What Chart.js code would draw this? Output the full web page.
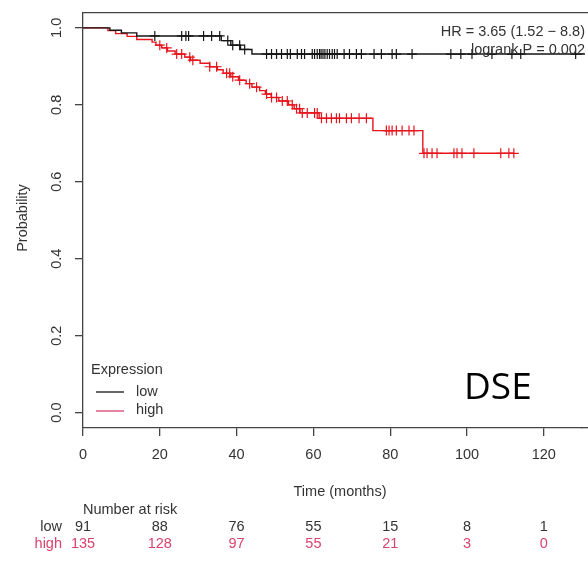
<!DOCTYPE html>
<html><head><meta charset="utf-8">
<script src="https://cdn.jsdelivr.net/npm/chart.js@4/dist/chart.umd.min.js"></script>
<style>html,body{margin:0;padding:0;background:#fff;}#wrap{width:588px;height:567px;position:relative;}</style>
</head><body><div id="wrap"><canvas id="c" width="588" height="567"></canvas></div>
<script>
// Kaplan-Meier step data (time in months, survival probability)
const lowTimes  = [0, 7, 10, 14, 36, 38.5, 41, 44, 131];
const lowSurv   = [1, 0.994, 0.987, 0.979, 0.967, 0.955, 0.944, 0.932, 0.932];
const highTimes = [0, 6.5, 8.5, 11.5, 14, 18, 19, 20.5, 22, 24, 26.5, 28, 30.5, 33, 35, 36.5, 38.5, 40.5, 42.5, 44, 46, 47.5, 49, 51, 53.5, 55, 56.5, 61.5, 75.5, 88.5, 112.2];
const highSurv  = [1, 0.993, 0.985, 0.978, 0.970, 0.963, 0.955, 0.948, 0.940, 0.932, 0.924, 0.916, 0.908, 0.899, 0.891, 0.882, 0.873, 0.864, 0.855, 0.846, 0.837, 0.828, 0.819, 0.810, 0.800, 0.790, 0.779, 0.765, 0.733, 0.674, 0.674];
// censoring times
const lowCensor  = [18.7, 25.7, 26.8, 27.5, 31.4, 33.5, 35.6, 37.7, 39, 40.8, 42.1, 47.8, 49.1, 50.4, 51.7, 53.2, 54, 55.8, 56.9, 57.7, 59.7, 60.3, 61, 61.6, 62, 62.5, 63, 63.6, 64.2, 64.9, 65.5, 66.2, 68, 69.4, 71.2, 72.5, 75.8, 77.7, 80.5, 81.6, 85.7, 95.8, 98.4, 101.3, 106.5, 111.7, 114, 128.3];
const highCensor = [20, 21.8, 24.4, 25.7, 27.8, 28.6, 33, 34.8, 37.4, 38.2, 39, 40.8, 43.4, 45.2, 47.8, 49.1, 50.4, 51.9, 53.2, 54.5, 55.6, 56.4, 57.1, 58.4, 60.3, 61, 62.1, 63.4, 64.7, 66, 66.8, 68.6, 69.9, 71.9, 73.8, 79, 79.7, 80.5, 81.6, 83.1, 84.9, 86.2, 88.8, 89.6, 90.9, 92.2, 96.6, 97.4, 98.7, 101.8, 108.8, 110.9, 112.2];
// axis ticks
const xTicks = [0, 20, 40, 60, 80, 100, 120];
const yTicks = [0, 0.2, 0.4, 0.6, 0.8, 1.0];
const yTickLabels = ["0.0", "0.2", "0.4", "0.6", "0.8", "1.0"];
// number at risk
const riskTimes = [0, 20, 40, 60, 80, 100, 120];
const riskLow   = [91, 88, 76, 55, 15, 8, 1];
const riskHigh  = [135, 128, 97, 55, 21, 3, 0];
const groupNames = ["low", "high"];
const hrText = "HR = 3.65 (1.52 \u2212 8.8)";
const pText = "logrank P = 0.002";

const FONT = "'Liberation Sans', Arial, sans-serif";
const TXT = '#333';
const LOWC = '#151515';
const HIGHC = '#e8141c';
const HIGHTXT = '#d9436e';
const AXC = '#444';

function survAt(times, surv, t) {
  let s = surv[0];
  for (let i = 0; i < times.length; i++) { if (times[i] <= t) s = surv[i]; }
  return s;
}
const pts = (ts, ss) => ts.map((t, i) => ({x: t, y: ss[i]}));
const cens = (cs, ts, ss) => cs.map(t => ({x: t, y: survAt(ts, ss, t)}));
const align = (p, w) => Math.round(p - w / 2) + w / 2;

const annot = {
  id: 'annot',
  afterDraw(chart) {
    const ctx = chart.ctx, ca = chart.chartArea;
    const xs = chart.scales.x, ys = chart.scales.y;
    ctx.save();
    // top frame line and extension of bottom frame / curve to canvas edge
    ctx.strokeStyle = AXC; ctx.lineWidth = 1.3;
    const yt = align(ca.top, 1.3), yb = align(xs.top, 1.3);
    ctx.beginPath(); ctx.moveTo(ca.left, yt); ctx.lineTo(chart.width, yt); ctx.stroke();
    ctx.beginPath(); ctx.moveTo(ca.right - 1, yb); ctx.lineTo(chart.width, yb); ctx.stroke();
    ctx.strokeStyle = LOWC; ctx.lineWidth = 1.4;
    const yl = ys.getPixelForValue(lowSurv[lowSurv.length - 1]);
    ctx.beginPath(); ctx.moveTo(ca.right - 1, yl); ctx.lineTo(chart.width - 3, yl); ctx.stroke();
    ctx.font = '14.5px ' + FONT;
    ctx.fillStyle = TXT;
    ctx.textBaseline = 'middle';
    // y tick labels (rotated)
    yTicks.forEach((v, i) => {
      ctx.save();
      ctx.translate(57, ys.getPixelForValue(v));
      ctx.rotate(-Math.PI / 2);
      ctx.textAlign = 'center';
      ctx.fillText(yTickLabels[i], 0, 0);
      ctx.restore();
    });
    // y title
    ctx.save();
    ctx.translate(23, 218);
    ctx.rotate(-Math.PI / 2);
    ctx.textAlign = 'center';
    ctx.fillText('Probability', 0, 0);
    ctx.restore();
    // x title
    ctx.textAlign = 'center';
    ctx.fillText('Time (months)', 340, 492);
    // HR / logrank
    ctx.textAlign = 'right';
    ctx.fillText(hrText, 585, 32);
    ctx.fillText(pText, 585, 50);
    // legend
    ctx.textAlign = 'left';
    ctx.fillText('Expression', 91, 370);
    ctx.lineWidth = 1.3;
    ctx.strokeStyle = LOWC;
    ctx.beginPath(); ctx.moveTo(96, 392); ctx.lineTo(124, 392); ctx.stroke();
    ctx.strokeStyle = HIGHTXT;
    ctx.beginPath(); ctx.moveTo(96, 411); ctx.lineTo(124, 411); ctx.stroke();
    ctx.fillText(groupNames[0], 136, 392);
    ctx.fillText(groupNames[1], 136, 410);
    // number at risk
    ctx.fillText('Number at risk', 83, 510);
    ctx.textAlign = 'right';
    ctx.fillText(groupNames[0], 62, 527);
    ctx.fillStyle = HIGHTXT;
    ctx.fillText(groupNames[1], 62, 544);
    ctx.textAlign = 'center';
    riskTimes.forEach((t, i) => {
      const px = xs.getPixelForValue(t);
      ctx.fillStyle = TXT; ctx.fillText(String(riskLow[i]), px, 527);
      ctx.fillStyle = HIGHTXT; ctx.fillText(String(riskHigh[i]), px, 544);
    });
    // DSE label
    ctx.fillStyle = '#000';
    ctx.font = "37px 'Open Sans', 'Noto Sans', sans-serif";
    ctx.textAlign = 'left';
    ctx.fillText('DSE', 464, 388);
    ctx.restore();
  }
};

new Chart(document.getElementById('c'), {
  type: 'line',
  data: {
    datasets: [
      {label: 'low', data: pts(lowTimes, lowSurv), stepped: 'before', borderColor: LOWC, borderWidth: 1.4, pointRadius: 0, fill: false},
      {label: 'high', data: pts(highTimes, highSurv), stepped: 'before', borderColor: HIGHC, borderWidth: 1.4, pointRadius: 0, fill: false},
      {label: 'low censored', data: cens(lowCensor, lowTimes, lowSurv), showLine: false, pointStyle: 'cross', pointRadius: 5, borderColor: LOWC, borderWidth: 1.2, backgroundColor: LOWC},
      {label: 'high censored', data: cens(highCensor, highTimes, highSurv), showLine: false, pointStyle: 'cross', pointRadius: 5, borderColor: HIGHC, borderWidth: 1.2, backgroundColor: HIGHC}
    ]
  },
  options: {
    responsive: false,
    animation: false,
    devicePixelRatio: 1,
    layout: {padding: {top: 12.5, left: 0, right: 0, bottom: 0}},
    plugins: {legend: {display: false}, tooltip: {enabled: false}},
    scales: {
      x: {
        type: 'linear', min: 0, max: 129.9,
        afterBuildTicks: s => { s.ticks = xTicks.map(v => ({value: v})); },
        afterFit: s => { s.height = 139; },
        grid: {drawOnChartArea: false, drawTicks: true, tickLength: 8, color: AXC, lineWidth: 1.3},
        border: {display: true, color: AXC, width: 1.3},
        ticks: {color: TXT, font: {family: FONT, size: 14.5}, padding: 10, maxRotation: 0, autoSkip: false}
      },
      y: {
        type: 'linear', min: -0.04, max: 1.04,
        afterBuildTicks: s => { s.ticks = yTicks.map(v => ({value: v})); },
        afterFit: s => { s.width = 83; },
        grid: {drawOnChartArea: false, drawTicks: true, tickLength: 8, color: AXC, lineWidth: 1.3},
        border: {display: true, color: AXC, width: 1.3},
        ticks: {display: false}
      }
    }
  },
  plugins: [annot]
});
</script>
</body></html>
